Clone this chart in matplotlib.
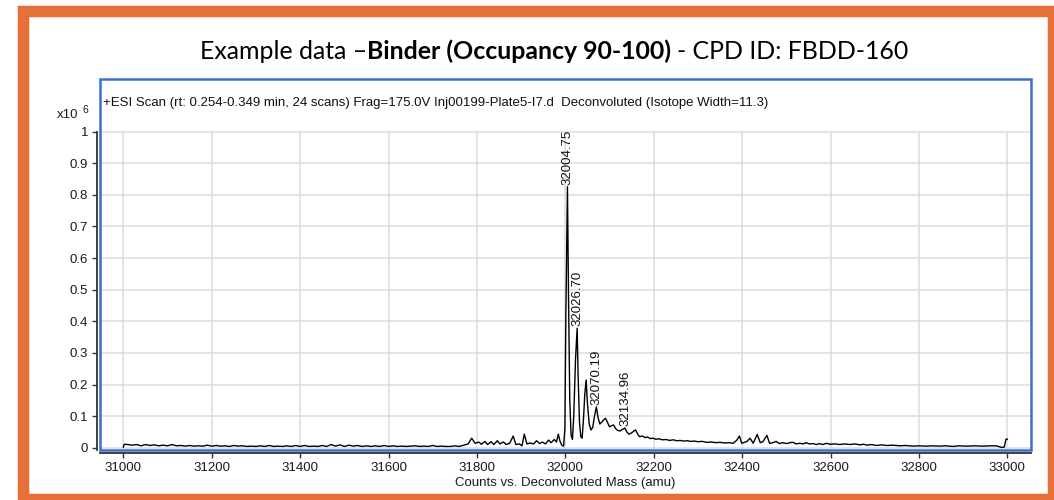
import matplotlib
matplotlib.use("Agg")
import matplotlib.pyplot as plt
from matplotlib.patches import Rectangle

plt.rcParams["font.family"] = ["Liberation Sans", "DejaVu Sans"]

# ---- spectrum (counts in units of 1e6) ----
mass_amu = [
    31000, 31002, 31010, 31020, 31030, 31040, 31050, 31060, 31070, 31080,
    31090, 31100, 31110, 31120, 31130, 31140, 31150, 31160, 31170, 31180,
    31190, 31200, 31210, 31220, 31230, 31240, 31250, 31260, 31270, 31280,
    31290, 31300, 31310, 31320, 31330, 31340, 31350, 31360, 31370, 31380,
    31390, 31400, 31410, 31420, 31430, 31440, 31450, 31460, 31470, 31480,
    31490, 31500, 31510, 31520, 31530, 31540, 31550, 31560, 31570, 31580,
    31590, 31600, 31610, 31620, 31630, 31640, 31650, 31660, 31670, 31680,
    31690, 31700, 31710, 31720, 31730, 31740,
    31750, 31760, 31770, 31780, 31788, 31796, 31804, 31810, 31818, 31824,
    31832, 31838, 31846, 31852, 31860, 31866, 31874, 31882, 31888, 31896,
    31902, 31907, 31913, 31920, 31928, 31935, 31942, 31948, 31955, 31962,
    31968, 31975, 31980, 31984, 31988, 31992, 31996,
    31999, 32001, 32004.75, 32007, 32010, 32013, 32016, 32019, 32023, 32026.70,
    32029, 32032, 32035, 32038, 32041, 32044, 32047, 32050, 32054, 32058,
    32062, 32066, 32070.19, 32074, 32078, 32083, 32088, 32091, 32096, 32100,
    32105, 32109, 32114, 32118, 32124, 32129, 32134.96, 32139, 32144, 32150,
    32156, 32159, 32164, 32168, 32174, 32180, 32186, 32192, 32198, 32205,
    32212, 32220, 32228, 32236, 32244, 32252, 32260, 32268, 32276, 32284,
    32292, 32300, 32310, 32320, 32330, 32340, 32350, 32360, 32370, 32380,
    32388, 32394, 32399, 32405, 32410, 32418, 32425, 32434, 32441, 32447,
    32456, 32462, 32470, 32477, 32484, 32492, 32500, 32508, 32515, 32522,
    32530, 32538, 32545, 32552, 32560, 32568, 32575, 32583, 32590, 32599,
    32610, 32621, 32632, 32644, 32655, 32667, 32675, 32682, 32692, 32704,
    32715, 32727, 32740, 32757, 32770, 32787, 32800, 32817, 32830, 32847,
    32860, 32877, 32890, 32908, 32925, 32946, 32960, 32975, 32987, 32993,
    32997, 33000,
]
counts_e6 = [
    0.002, 0.011, 0.010, 0.008, 0.010, 0.006, 0.010, 0.007, 0.009, 0.006,
    0.008, 0.006, 0.010, 0.006, 0.007, 0.005, 0.007, 0.005, 0.006, 0.005,
    0.008, 0.005, 0.007, 0.005, 0.006, 0.004, 0.007, 0.005, 0.006, 0.004,
    0.005, 0.004, 0.006, 0.004, 0.007, 0.004, 0.005, 0.004, 0.006, 0.004,
    0.007, 0.004, 0.007, 0.004, 0.005, 0.004, 0.007, 0.004, 0.010, 0.005,
    0.009, 0.004, 0.008, 0.005, 0.007, 0.004, 0.006, 0.004, 0.006, 0.004,
    0.007, 0.004, 0.006, 0.004, 0.005, 0.004, 0.005, 0.006, 0.004, 0.005,
    0.004, 0.007, 0.004, 0.005, 0.004, 0.004,
    0.006, 0.004, 0.008, 0.012, 0.030, 0.014, 0.018, 0.011, 0.020, 0.010,
    0.019, 0.010, 0.022, 0.012, 0.018, 0.010, 0.014, 0.037, 0.010, 0.012,
    0.006, 0.043, 0.012, 0.015, 0.012, 0.022, 0.013, 0.018, 0.012, 0.024,
    0.016, 0.026, 0.018, 0.043, 0.020, 0.008, 0.005,
    0.060, 0.400, 0.826, 0.500, 0.150, 0.040, 0.026, 0.100, 0.280, 0.378,
    0.220, 0.080, 0.035, 0.030, 0.090, 0.170, 0.214, 0.140, 0.075, 0.056,
    0.065, 0.100, 0.129, 0.095, 0.075, 0.082, 0.090, 0.093, 0.078, 0.066,
    0.070, 0.072, 0.060, 0.055, 0.053, 0.058, 0.062, 0.050, 0.043, 0.047,
    0.054, 0.056, 0.042, 0.035, 0.037, 0.032, 0.034, 0.029, 0.030, 0.027,
    0.028, 0.025, 0.026, 0.023, 0.025, 0.022, 0.023, 0.021, 0.022, 0.020,
    0.021, 0.019, 0.020, 0.017, 0.018, 0.016, 0.017, 0.015, 0.016, 0.014,
    0.024, 0.037, 0.014, 0.017, 0.019, 0.030, 0.014, 0.042, 0.016, 0.019,
    0.039, 0.014, 0.016, 0.020, 0.013, 0.016, 0.013, 0.016, 0.017, 0.012,
    0.014, 0.012, 0.016, 0.012, 0.013, 0.010, 0.013, 0.010, 0.014, 0.011,
    0.012, 0.010, 0.012, 0.010, 0.012, 0.009, 0.011, 0.008, 0.010, 0.007,
    0.009, 0.007, 0.008, 0.006, 0.007, 0.005, 0.006, 0.005, 0.006, 0.005,
    0.006, 0.004, 0.006, 0.005, 0.006, 0.005, 0.006, 0.006, 0.001, 0.002,
    0.027, 0.027,
]

# labelled peaks
peak_mass = [32004.75, 32026.70, 32070.19, 32134.96]
peak_counts = [0.826, 0.378, 0.129, 0.062]

x_ticks = [31000, 31200, 31400, 31600, 31800, 32000, 32200, 32400, 32600, 32800, 33000]
y_ticks = [0, 0.1, 0.2, 0.3, 0.4, 0.5, 0.6, 0.7, 0.8, 0.9, 1.0]
y_tick_labels = ["0", "0.1", "0.2", "0.3", "0.4", "0.5", "0.6", "0.7", "0.8", "0.9", "1"]

title_regular_1 = "Example data \u2013"
title_bold = "Binder (Occupancy 90-100)"
title_regular_2 = "- CPD ID: FBDD-160"
scan_info = ("+ESI Scan (rt: 0.254-0.349 min, 24 scans) Frag=175.0V "
             "Inj00199-Plate5-I7.d  Deconvoluted (Isotope Width=11.3)")
x_label = "Counts vs. Deconvoluted Mass (amu)"

# ---- figure ----
W, H = 1054, 500
fig = plt.figure(figsize=(W / 100, H / 100), dpi=100)
fig.patch.set_facecolor("white")


def fx(px):
    return px / W


def fy(py):
    return 1 - py / H


# orange slide frame
fig.patches.append(Rectangle((fx(22.5), fy(498.8)), fx(1052.5) - fx(22.5), fy(11) - fy(498.8),
                             transform=fig.transFigure, fill=False, ec="#E7703A",
                             lw=11.5 * 0.72, zorder=0))

L, T, R, B = 99.5, 79.3, 1031.2, 449.7
ax = fig.add_axes([fx(L), fy(B), (R - L) / W, (B - T) / H])
ax.set_facecolor("white")
xmin, xmax = 30946, 33054
ymin, ymax = -0.0063, 1.1658
ax.set_xlim(xmin, xmax)
ax.set_ylim(ymin, ymax)

# grid
ax.hlines(y_ticks, xmin, xmax, color="#DCDCDC", lw=1.1, zorder=0)
ax.vlines(x_ticks, ymin, 1.0, color="#DCDCDC", lw=1.1, zorder=0)

ax.plot(mass_amu, counts_e6, color="black", lw=1.0, zorder=3)

for m, c in zip(peak_mass, peak_counts):
    ax.annotate(f"{m:.2f}", xy=(m, c), xytext=(0, 1.5), textcoords="offset points",
                rotation=90, ha="center", va="bottom", fontsize=9.5, color="#111111")

# axes lines
for s in ("top", "right"):
    ax.spines[s].set_visible(False)
ax.spines["left"].set_position(("outward", 1.8))
ax.spines["bottom"].set_position(("outward", 2.2))
ax.spines["left"].set_bounds(ymin, 1.0)
for s in ("left", "bottom"):
    ax.spines[s].set_color("#333333")
    ax.spines[s].set_linewidth(1.3)

ax.set_xticks(x_ticks)
ax.set_xticklabels([str(t) for t in x_ticks])
ax.set_yticks(y_ticks)
ax.set_yticklabels(y_tick_labels)
ax.tick_params(direction="out", length=3.6, width=1.0, color="#333333",
               labelsize=9.5, labelcolor="#1a1a1a")
ax.tick_params(axis="y", pad=2.7)
ax.tick_params(axis="x", pad=2.9)
ax.set_xlabel(x_label, fontsize=9.5, labelpad=2, color="#1a1a1a")

# blue plot frame
ax.add_patch(Rectangle((0, 0), 1, 1, transform=ax.transAxes, fill=False,
                       ec="#3A6FD0", lw=1.8, clip_on=False, zorder=6))

fig.text(fx(103), fy(103), scan_info, ha="left", va="center", fontsize=9.5, color="#111111")
fig.text(fx(57), fy(115), "x10", ha="left", va="center", fontsize=9.5, color="#1a1a1a")
fig.text(fx(82.7), fy(110), "6", ha="left", va="center", fontsize=7.5, color="#1a1a1a")

# title: regular / bold / regular pieces, centred as one line
fig.canvas.draw()
rend = fig.canvas.get_renderer()
tfam = ["Lato", "DejaVu Sans"]


def text_width(s, size, weight="normal"):
    t = fig.text(0, 0, s, fontsize=size, family=tfam, weight=weight)
    w = t.get_window_extent(rend).width
    t.remove()
    return w


base = 17
total = (text_width(title_regular_1, base) + text_width(title_bold, base, "bold")
         + text_width("x x", base) - text_width("xx", base)
         + text_width(title_regular_2, base))
fs = base * 712 / total
w1 = text_width(title_regular_1, fs)
w2 = text_width(title_bold, fs, "bold")
sp = text_width("x x", fs) - text_width("xx", fs)
w3 = text_width(title_regular_2, fs)
x0 = 554 - (w1 + w2 + sp + w3) / 2
yb = fy(59)
fig.text(fx(x0), yb, title_regular_1, fontsize=fs, family=tfam, va="baseline", color="black")
fig.text(fx(x0 + w1), yb, title_bold, fontsize=fs, family=tfam, weight="bold",
         va="baseline", color="black")
fig.text(fx(x0 + w1 + w2 + sp), yb, title_regular_2, fontsize=fs, family=tfam,
         va="baseline", color="black")

fig.savefig("out.png", dpi=100)
